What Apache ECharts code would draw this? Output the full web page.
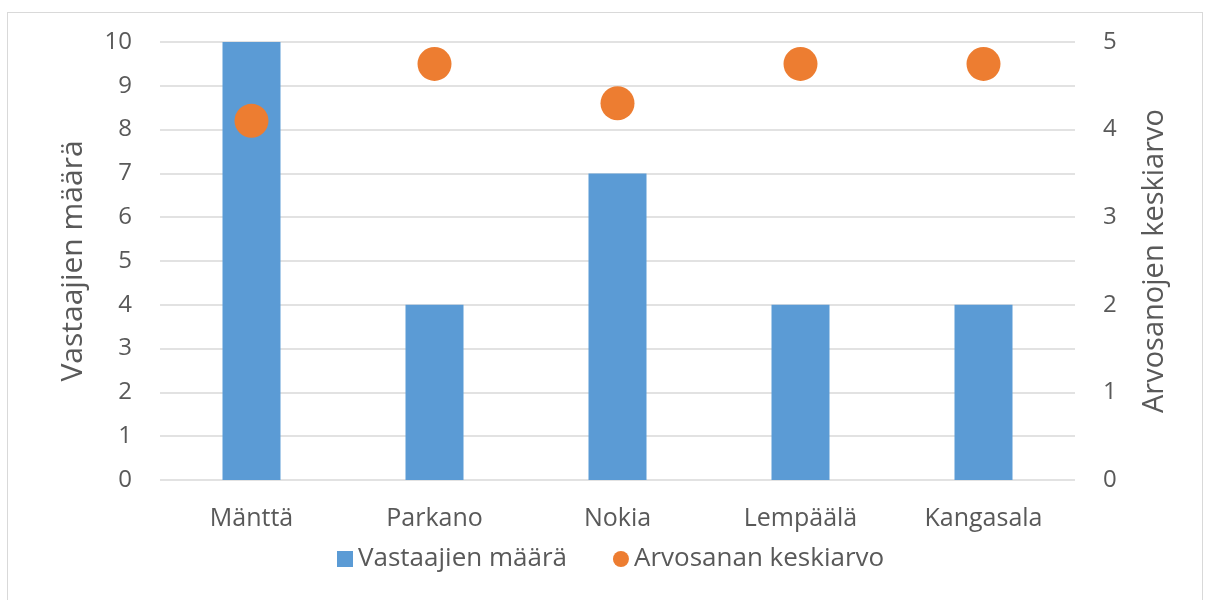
<!DOCTYPE html>
<html>
<head>
<meta charset="utf-8">
<script src="https://cdn.jsdelivr.net/npm/echarts@6/dist/echarts.min.js"></script>
<style>
html, body { margin: 0; padding: 0; background: #fff; }
.frame {
    position: absolute;
    left: 7px;
    top: 12px;
    width: 1194px;
    height: 640px;
    border: 1px solid #d9d9d9;
}
#chart {
    position: absolute;
    left: 0;
    top: 0;
    width: 1209px;
    height: 600px;
}
</style>
</head>
<body>
<div class="frame"></div>
<div id="chart"></div>
<script>
const cities = ['Mänttä', 'Parkano', 'Nokia', 'Lempäälä', 'Kangasala']
const respondents = [10, 4, 7, 4, 4]
const avgGrade = [4.1, 4.75, 4.3, 4.75, 4.75]

const textColor = '#595959'
const fontFam = '"Open Sans", sans-serif'

const myChart = echarts.init(document.getElementById('chart'))

const option = {
    animation: false,
    textStyle: { fontFamily: fontFam, color: textColor },
    grid: { left: 160, right: 134, top: 42, bottom: 120 },
    legend: {
        left: 332,
        top: 541,
        itemGap: 46,
        itemWidth: 16,
        itemHeight: 16,
        textStyle: { fontSize: 26, color: textColor, fontFamily: fontFam },
        data: [
            { name: 'Vastaajien määrä', icon: 'rect' },
            { name: 'Arvosanan keskiarvo', icon: 'circle', itemStyle: { color: '#ed7d31' } }
        ]
    },
    xAxis: {
        type: 'category',
        data: cities,
        axisLine: { show: false },
        axisTick: { show: false },
        axisLabel: { fontSize: 25, color: textColor, margin: 26 }
    },
    yAxis: [
        {
            type: 'value',
            min: 0,
            max: 10,
            interval: 1,
            name: 'Vastaajien määrä',
            nameLocation: 'middle',
            nameGap: 72,
            nameTextStyle: { fontSize: 30, color: textColor },
            axisLabel: { fontSize: 24, color: textColor, margin: 28 },
            splitLine: { lineStyle: { color: '#d9d9d9', width: 1.5 } }
        },
        {
            type: 'value',
            min: 0,
            max: 5,
            interval: 1,
            name: 'Arvosanojen keskiarvo',
            nameLocation: 'middle',
            nameGap: 65,
            nameTextStyle: { fontSize: 29, color: textColor },
            axisLabel: { fontSize: 24, color: textColor, margin: 28 },
            splitLine: { show: false }
        }
    ],
    series: [
        {
            name: 'Vastaajien määrä',
            type: 'bar',
            barWidth: 58,
            itemStyle: { color: '#5b9bd5' },
            data: respondents
        },
        {
            name: 'Arvosanan keskiarvo',
            type: 'scatter',
            yAxisIndex: 1,
            symbolSize: 34,
            itemStyle: { color: '#ed7d31', opacity: 1 },
            data: avgGrade
        }
    ]
}

myChart.setOption(option)
</script>
</body>
</html>
